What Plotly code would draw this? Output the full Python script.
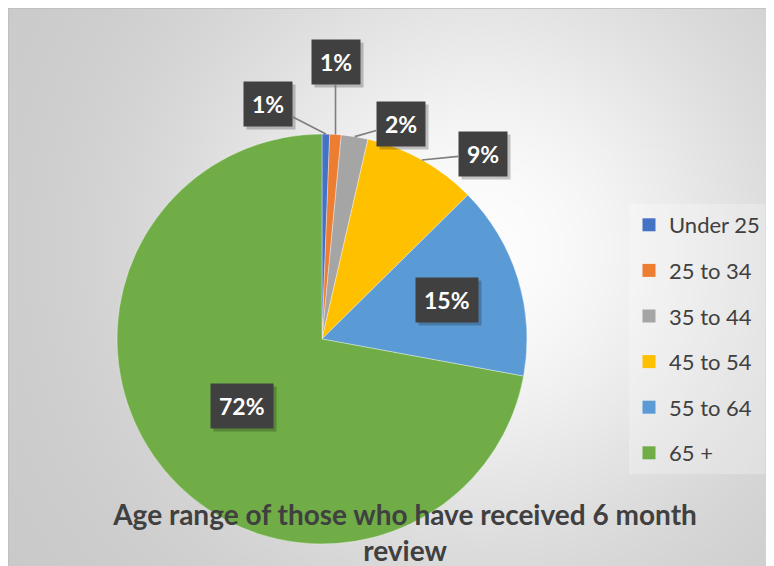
import base64, math, struct, zlib
import plotly.graph_objects as go

# ---------------- data ----------------
categories = ["Under 25", "25 to 34", "35 to 44", "45 to 54", "55 to 64", "65 +"]
values = [0.6, 0.9, 2.1, 9.0, 15.3, 72.1]
colors = ["#4472C4", "#ED7D31", "#A5A5A5", "#FFC000", "#5B9BD5", "#70AD47"]
title_text = "Age range of those who have received 6 month<br>review"

# label placement style: (radius fraction, pixel offset x, pixel offset y, outside?)
label_style = [
    (1.0, -58, -30, True),
    (1.0, 0, -72, True),
    (1.0, 46, -13, True),
    (1.0, 61, -6, True),
    (0.64, 0, 0, False),
    (0.51, 0, 0, False),
]

OFF = 8                      # page body margin in the browser
W, H = 774 - OFF, 566 - OFF  # figure size
CX, CY, R = 322 - OFF, 339 - OFF, 205  # pie centre / radius in figure pixels


# ---------------- background gradient image ----------------
def make_png(w, h, fn):
    rows = []
    for j in range(h):
        row = bytearray([0])
        for i in range(w):
            v = fn(i, j)
            row += bytes((v, v, v))
        rows.append(bytes(row))
    raw = b"".join(rows)

    def chunk(t, d):
        return struct.pack(">I", len(d)) + t + d + struct.pack(">I", zlib.crc32(t + d) & 0xFFFFFFFF)

    return (b"\x89PNG\r\n\x1a\n" + chunk(b"IHDR", struct.pack(">IIBBBBB", w, h, 8, 2, 0, 0, 0))
            + chunk(b"IDAT", zlib.compress(raw)) + chunk(b"IEND", b""))


GW, GH = 192, 140
sx = W / GW
sy = H / GH


def grad(i, j):
    px = (i + 0.5) * sx + OFF
    py = (j + 0.5) * sy + OFF
    d = math.hypot(px - 480, py - 250)
    v = 200 + 53 * math.exp(-(d / 310.0) ** 2)
    return int(max(0, min(255, v)))


png_uri = "data:image/png;base64," + base64.b64encode(make_png(GW, GH, grad)).decode()

# ---------------- figure ----------------
fig = go.Figure()

fig.add_trace(go.Pie(
    labels=categories, values=values, sort=False, direction="clockwise", rotation=0,
    marker=dict(colors=colors, line=dict(color="rgba(255,255,255,0.6)", width=0.6)),
    textinfo="none", hoverinfo="label+percent", showlegend=False,
    domain=dict(x=[(CX - R) / W, (CX + R) / W], y=[1 - (CY + R) / H, 1 - (CY - R) / H]),
))

# legend entries (one per category, spaced like the original)
for c, col in zip(categories, colors):
    fig.add_trace(go.Scatter(
        x=[None], y=[None], mode="markers", name=c, legendgroup=c,
        marker=dict(symbol="square", size=13, color=col), hoverinfo="skip",
    ))

# percentage labels in dark boxes
total = sum(values)
cum = 0.0
annotations = []
LFONT = 23
for v, (f, ox, oy, outside) in zip(values, label_style):
    mid = (cum + v / 2) / total * 2 * math.pi
    cum += v
    px = CX + f * R * math.sin(mid)
    py = CY - f * R * math.cos(mid)
    txt = "<b>%d%%</b>" % round(v / total * 100)
    common = dict(xref="paper", yref="paper", x=px / W, y=1 - py / H,
                  borderpad=8, xanchor="center", yanchor="middle")
    # shadow
    annotations.append(dict(common, text=txt, font=dict(family="Lato", size=LFONT, color="rgba(0,0,0,0)"),
                            bgcolor="rgba(0,0,0,0.22)", xshift=3, yshift=-3,
                            showarrow=outside, ax=ox, ay=oy, arrowcolor="rgba(0,0,0,0)", arrowwidth=0.1,
                            arrowhead=0))
    annotations.append(dict(common, text=txt, font=dict(family="Lato", size=LFONT, color="white"),
                            bgcolor="#404040",
                            showarrow=outside, ax=ox, ay=oy, arrowcolor="#7f7f7f", arrowwidth=1.6,
                            arrowhead=0))

fig.update_layout(
    width=W, height=H,
    margin=dict(l=0, r=0, t=0, b=0),
    paper_bgcolor="white", plot_bgcolor="rgba(0,0,0,0)",
    xaxis=dict(visible=False), yaxis=dict(visible=False),
    title=dict(text="<b>" + title_text + "</b>", x=(405 - OFF) / W, xanchor="center",
               y=1 - (525 - OFF) / H, yanchor="middle",
               font=dict(family="Lato", size=28, color="#404040")),
    legend=dict(x=(629 - OFF) / W, xanchor="left", y=1 - (339 - OFF) / H, yanchor="middle",
                font=dict(family="Lato", size=22, color="#404040"),
                bgcolor="rgba(255,255,255,0.25)", tracegroupgap=14, itemwidth=30),
    images=[dict(source=png_uri, xref="paper", yref="paper", x=0, y=1,
                 sizex=1, sizey=1, xanchor="left", yanchor="top",
                 sizing="stretch", layer="below")],
    shapes=[dict(type="rect", xref="paper", yref="paper", x0=0, y0=-0.01, x1=1.01, y1=1,
                 line=dict(color="#bdbdbd", width=1.5), layer="below")],
    annotations=annotations,
)

fig.write_html("out.html")
